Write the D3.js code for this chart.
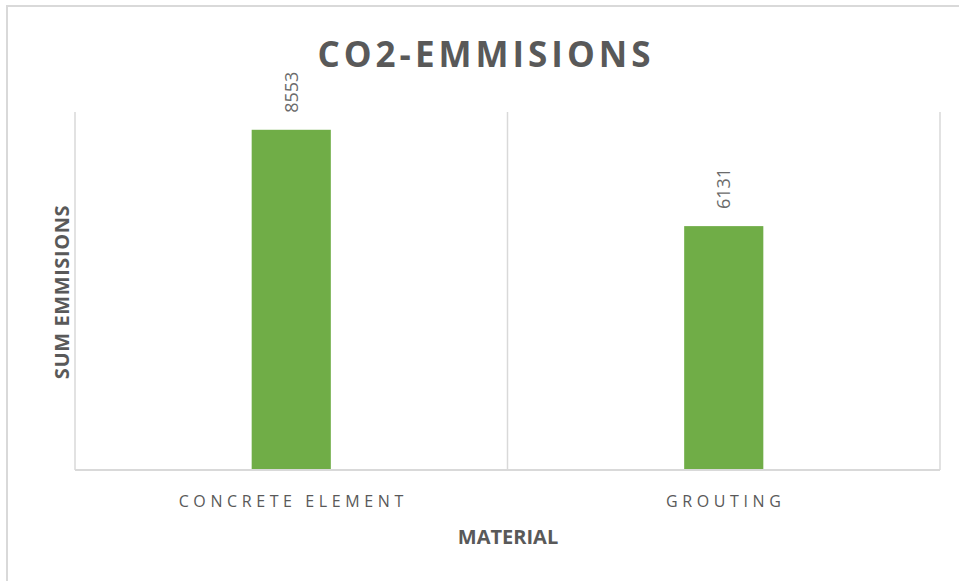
<!DOCTYPE html>
<html>
<head>
<meta charset="utf-8">
<script src="https://cdn.jsdelivr.net/npm/d3@7"></script>
<style>
  html, body { margin: 0; padding: 0; background: #fff; }
  svg text { font-family: "Open Sans", sans-serif; }
</style>
</head>
<body>
<div id="chart"></div>
<script>
const categories = ["CONCRETE ELEMENT", "GROUTING"];
const emissions = [8553, 6131];
const yMax = 9000;

const W = 959, H = 581;
const plot = { left: 75, right: 940, top: 112, bottom: 470 };

const svg = d3.select('#chart').append('svg')
    .attr('width', W)
    .attr('height', H);

// outer chart frame (cut off at right/bottom like the source)
svg.append('path')
    .attr('d', `M7,${H} V6 H${W}`)
    .attr('fill', 'none')
    .attr('stroke', '#d9d9d9')
    .attr('stroke-width', 2);

const x = d3.scaleBand()
    .domain(categories)
    .range([plot.left, plot.right])
    .padding(0);

const y = d3.scaleLinear()
    .domain([0, yMax])
    .range([plot.bottom, plot.top]);

// vertical category separators
const sepX = [plot.left].concat(categories.map(c => x(c) + x.bandwidth()));
svg.append('g')
    .selectAll('line')
    .data(sepX)
    .enter().append('line')
    .attr('x1', d => d).attr('x2', d => d)
    .attr('y1', plot.top).attr('y2', plot.bottom)
    .attr('stroke', '#d9d9d9')
    .attr('stroke-width', 1.5);

// bars
const barW = x.bandwidth() * 0.183;
svg.append('g')
    .selectAll('rect')
    .data(categories)
    .enter().append('rect')
    .attr('x', c => x(c) + x.bandwidth() / 2 - barW / 2)
    .attr('y', (c, i) => y(emissions[i]))
    .attr('width', barW)
    .attr('height', (c, i) => y(0) - y(emissions[i]))
    .attr('fill', '#70ad47');

// baseline
svg.append('line')
    .attr('x1', plot.left).attr('x2', plot.right)
    .attr('y1', y(0)).attr('y2', y(0))
    .attr('stroke', '#d9d9d9')
    .attr('stroke-width', 2);

// value labels, rotated
svg.append('g')
    .selectAll('text')
    .data(categories)
    .enter().append('text')
    .attr('transform', (c, i) => `translate(${x(c) + x.bandwidth() / 2},${y(emissions[i]) - 17}) rotate(-90)`)
    .attr('dy', '0.35em')
    .attr('fill', '#6b6b6b')
    .style('font-size', '18px')
    .text((c, i) => emissions[i]);

// category tick labels
svg.append('g')
    .selectAll('text')
    .data(categories)
    .enter().append('text')
    .attr('x', c => x(c) + x.bandwidth() / 2 + 2)
    .attr('y', 507)
    .attr('text-anchor', 'middle')
    .attr('fill', '#595959')
    .style('font-size', '16px')
    .style('letter-spacing', '4.6px')
    .text(c => c);

// title
svg.append('text')
    .attr('x', 486)
    .attr('y', 67)
    .attr('text-anchor', 'middle')
    .attr('fill', '#595959')
    .style('font-size', '35px')
    .style('font-weight', 700)
    .style('letter-spacing', '4px')
    .text('CO2-EMMISIONS');

// axis titles
svg.append('text')
    .attr('x', 508)
    .attr('y', 544)
    .attr('text-anchor', 'middle')
    .attr('fill', '#595959')
    .style('font-size', '20px')
    .style('font-weight', 700)
    .text('MATERIAL');

svg.append('text')
    .attr('transform', 'translate(69,292) rotate(-90)')
    .attr('text-anchor', 'middle')
    .attr('fill', '#595959')
    .style('font-size', '20px')
    .style('font-weight', 700)
    .style('letter-spacing', '0.6px')
    .text('SUM EMMISIONS');
</script>
</body>
</html>
